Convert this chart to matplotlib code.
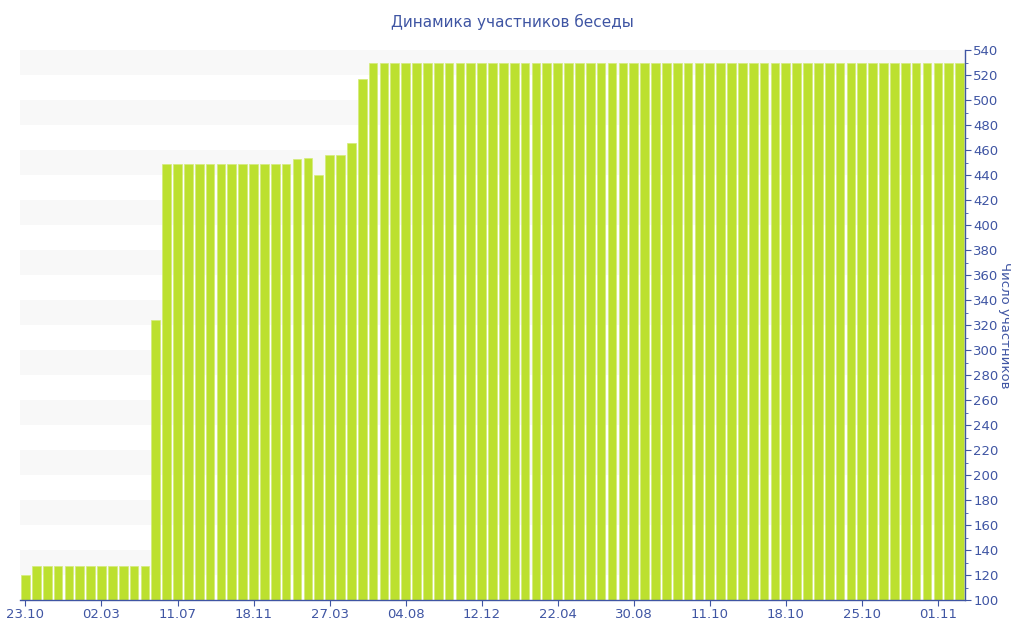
#!/usr/bin/env python3
import matplotlib
matplotlib.use("Agg")
import matplotlib.pyplot as plt
from matplotlib.ticker import MultipleLocator

# number of participants per day
members = (
    [120] + [127] * 11 + [324] + [449] * 12
    + [453, 454, 440, 456, 456, 466, 517] + [530] * 55
)
tick_labels = ["23.10", "02.03", "11.07", "18.11", "27.03", "04.08", "12.12",
               "22.04", "30.08", "11.10", "18.10", "25.10", "01.11"]
tick_step = 7

BLUE = "#3f55a3"
BAR = "#bce02f"

fig = plt.figure(figsize=(10.24, 6.4), dpi=100)
ax = fig.add_axes([20 / 1024, 40 / 640, 945 / 1024, 550 / 640])

n = len(members)
ax.set_xlim(-0.5, n - 0.5)
ax.set_ylim(100, 540)

# striped background
for lo in range(120, 540, 40):
    ax.axhspan(lo, lo + 20, color="#f8f8f8", lw=0, zorder=0)

ax.bar(range(n), members, width=0.8, color=BAR, edgecolor="#d4ec7a",
       linewidth=0.5, zorder=2)

ax.set_xticks([i * tick_step for i in range(len(tick_labels))])
ax.set_xticklabels(tick_labels)

ax.yaxis.tick_right()
ax.yaxis.set_label_position("right")
ax.yaxis.set_major_locator(MultipleLocator(20))
ax.yaxis.set_minor_locator(MultipleLocator(10))
ax.set_ylabel("Число участников", color=BLUE, fontsize=9.5, rotation=-90,
              labelpad=9)

for s in ["top", "left"]:
    ax.spines[s].set_visible(False)
for s in ["right", "bottom"]:
    ax.spines[s].set_color(BLUE)
    ax.spines[s].set_linewidth(1)

ax.tick_params(axis="y", which="major", colors=BLUE, labelsize=9.5,
               direction="out", length=4, pad=2)
ax.tick_params(axis="y", which="minor", colors=BLUE, direction="out", length=2)
ax.tick_params(axis="x", colors=BLUE, labelsize=9.5, direction="out",
               length=4, pad=2)

fig.text(0.5, 1 - 22 / 640, "Динамика участников беседы", color=BLUE,
         fontsize=11, ha="center", va="center")

fig.savefig("out.png", dpi=100)
